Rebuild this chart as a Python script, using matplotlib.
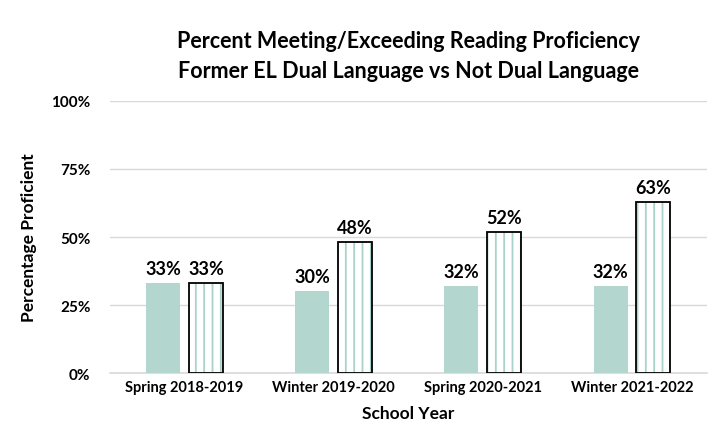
import matplotlib
matplotlib.use("Agg")
import matplotlib.pyplot as plt
import numpy as np

plt.rcParams.update({
    "font.family": ["Lato", "DejaVu Sans"],
    "font.weight": "bold",
    "hatch.linewidth": 1.3,
})

C_SOLID = "#B3D7CF"
C_HATCH = "#A9D3CA"
C_GRID = "#D9D9D9"

years = ["Spring 2018-2019", "Winter 2019-2020", "Spring 2020-2021", "Winter 2021-2022"]
not_dual = [33, 30, 32, 32]
dual = [33, 48, 52, 63]
y_ticks = [0, 25, 50, 75, 100]

x = np.arange(len(years))
w = 0.228
off = 0.144

fig = plt.figure(figsize=(7.21, 4.39), dpi=100)
ax = fig.add_axes([0.1526, 0.148, 0.8274, 0.6197])

# solid series
bars_s = ax.bar(x - off, not_dual, w, color=C_SOLID, linewidth=0, zorder=3)
# hatched series: hatch layer then black outline on top
ax.bar(x + off, dual, w, color="white", edgecolor=C_HATCH, hatch="||",
       linewidth=0, zorder=3)
bars_h = ax.bar(x + off, dual, w, facecolor="none", edgecolor="black",
                linewidth=1.3, zorder=4)

for bars, vals in ((bars_s, not_dual), (bars_h, dual)):
    for b, v in zip(bars, vals):
        ax.text(b.get_x() + b.get_width() / 2, v + 2.2, f"{v}%",
                ha="center", va="bottom", fontsize=13, fontweight="bold")

ax.set_xlim(-0.5, 3.5)
ax.set_ylim(0, 100)
ax.set_yticks(y_ticks)
ax.set_yticklabels([f"{t}%" for t in y_ticks])
ax.set_xticks(x)
ax.set_xticklabels(years)
ax.tick_params(axis="x", length=0, labelsize=10.5, pad=5)
ax.tick_params(axis="y", length=0, labelsize=11, pad=14)
ax.grid(axis="y", color=C_GRID, linewidth=1.0, zorder=0)
for s in ("top", "right", "left"):
    ax.spines[s].set_visible(False)
ax.spines["bottom"].set_color(C_GRID)
ax.spines["bottom"].set_linewidth(1.2)

ax.set_xlabel("School Year", fontsize=12.5, fontweight="bold", labelpad=8)
ax.set_ylabel("Percentage Proficient", fontsize=12.5, fontweight="bold", labelpad=10)

fig.text(0.566, 0.905, "Percent Meeting/Exceeding Reading Proficiency",
         ha="center", va="center", fontsize=15.5, fontweight="bold")
fig.text(0.566, 0.838, "Former EL Dual Language vs Not Dual Language",
         ha="center", va="center", fontsize=15.5, fontweight="bold")

fig.savefig("out.png", dpi=100)
